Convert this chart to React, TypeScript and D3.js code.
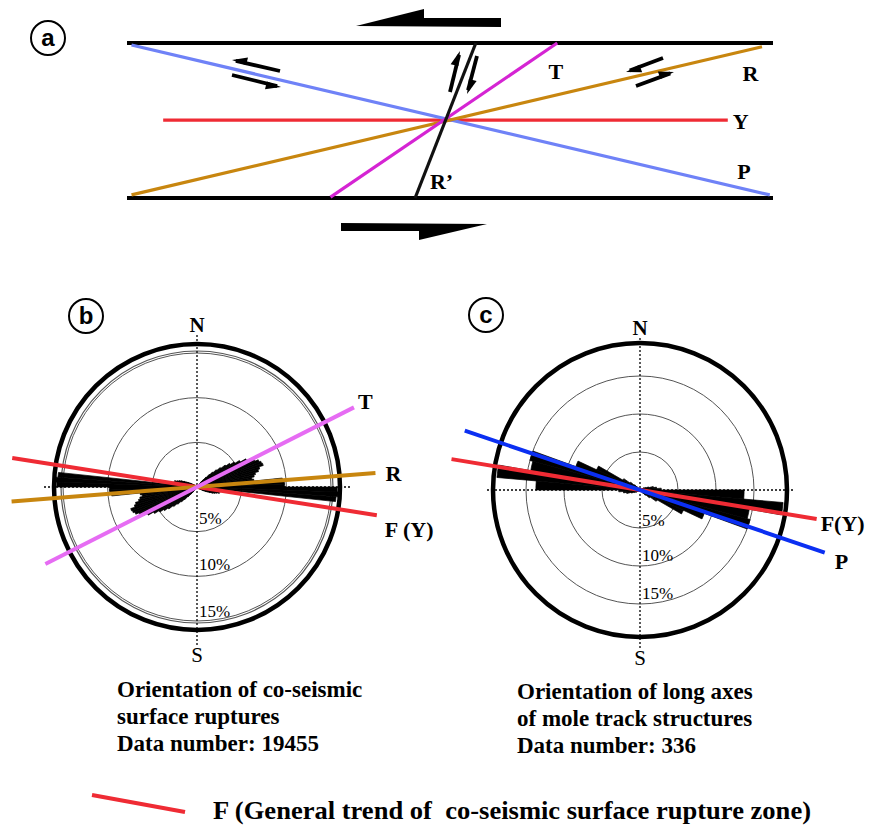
import React from 'react';
import * as d3 from 'd3';

const W = 874, H = 830;
const SERIF = '"Liberation Serif", "Times New Roman", serif';

// ---- panel a : ideal Riedel shear pattern (x: 0..1 along zone, y: 0 top .. 1 bottom)
const traceNames = ['Y', 'P', 'R', 'T', 'R\u2019'];
const traceX1 = [0.056, 0.007, 0.007, 0.315, 0.446];
const traceY1 = [0.497, 0.013, 0.98, 0.994, 1.0];
const traceX2 = [0.93, 0.995, 0.983, 0.666, 0.54];
const traceY2 = [0.497, 0.98, 0.024, 0.0, 0.0];
const traceColors = ['#ef2b34', '#6f82f7', '#c8860f', '#d524d3', '#111'];
const labelX = [0.95, 0.955, 0.965, 0.664, 0.487];
const labelY = [0.555, 0.88, 0.245, 0.235, 0.945];

// ---- panel b : co-seismic surface ruptures, 2 deg bins (axial, mirrored)
const roseBStart = 36;
const roseBWidth = 2;
const roseBPct = [
  0.5, 0.8, 1.1, 1.5, 2.0, 2.4, 2.9, 3.4, 4.0, 4.5, 5.0, 5.6, 6.3, 6.8, 7.1, 7.5,
  7.7, 7.8, 7.3, 7.1, 6.7, 6.5, 6.2, 6.4, 9.6, 9.8, 9.8, 15.7, 15.8, 15.6, 3.6, 3.0,
  2.7, 2.5, 2.6, 2.3, 2.1, 1.9, 1.6, 1.3, 1.1, 0.9, 0.7, 0.5, 0.4,
];
const linesBName = ['F (Y)', 'R', 'T'];
const linesBAz = [98.9, 85.5, 63.1];
const linesBLenFwd = [182, 179, 176];
const linesBLenBack = [187, 186, 170];
const linesBColor = ['#ef2b34', '#c8860f', '#e66cf3'];

// ---- panel c : long axes of mole tracks, 5 deg bins
const roseCStart = 60;
const roseCWidth = 5;
const roseCPct = [0.6, 0.8, 1.2, 1.8, 2.2, 2.8, 13.7, 18.9, 14.6, 15.0, 9.0, 6.3, 2.6, 1.6, 1.0, 0.6];
const linesCName = ['F(Y)', 'P'];
const linesCAz = [99.3, 108.7];
const linesCLenFwd = [179, 195];
const linesCLenBack = [191, 185];
const linesCColor = ['#ef2b34', '#0b2ff2'];

const ringPct = [5, 10, 15];

function Harpoon({ x1, y1, x2, y2, side }: any) {
  const dx = x2 - x1, dy = y2 - y1;
  const L = Math.hypot(dx, dy);
  const ux = dx / L, uy = dy / L;
  const nx = -uy * side, ny = ux * side;
  const bx = x2 - ux * 15, by = y2 - uy * 15;
  const pts = [[x2, y2], [bx + nx * 6, by + ny * 6], [bx - nx * 2, by - ny * 2]];
  return (
    <g>
      <line x1={x1} y1={y1} x2={x2 - ux * 4} y2={y2 - uy * 4} stroke="#000" strokeWidth={3.8} />
      <polygon points={pts.map(p => p.join(',')).join(' ')} fill="#000" />
    </g>
  );
}

function Circled({ x, y, t }: any) {
  return (
    <g>
      <circle cx={x} cy={y} r={17} fill="none" stroke="#000" strokeWidth={2} />
      <text x={x} y={y + 8} textAnchor="middle" fontFamily="Arial, Liberation Sans, sans-serif"
        fontWeight="bold" fontSize={24}>{t}</text>
    </g>
  );
}

function Rose({ cx, cy, r15, outerR, inner, start, width, pct, names, az, fwd, back, colors, labelDy, labelDx, pctY }: any) {
  const r = d3.scaleLinear().domain([0, 15]).range([0, r15]);
  const arc = d3.arc<any>();
  const petals: any[] = [];
  pct.forEach((v: number, i: number) => {
    const a = start + i * width;
    [a, a + 180].forEach(b => {
      petals.push(arc({ innerRadius: 0, outerRadius: r(v), startAngle: b * Math.PI / 180, endAngle: (b + width) * Math.PI / 180 }));
    });
  });
  const dir = (d: number) => [Math.sin(d * Math.PI / 180), -Math.cos(d * Math.PI / 180)];
  return (
    <g transform={`translate(${cx},${cy})`}>
      {ringPct.map(p => (
        <circle key={p} r={r(p)} fill="none" stroke="#555" strokeWidth={1} />
      ))}
      {inner && <circle r={outerR - 7} fill="none" stroke="#555" strokeWidth={1.2} />}
      <circle r={outerR} fill="none" stroke="#000" strokeWidth={4.5} />
      <line x1={0} y1={-152} x2={0} y2={158} stroke="#000" strokeWidth={1.3} strokeDasharray="2,2" />
      <line x1={-153} y1={0} x2={153} y2={0} stroke="#000" strokeWidth={1.3} strokeDasharray="2,2" />
      {petals.map((d, i) => <path key={i} d={d} fill="#000" stroke="#000" strokeWidth={0.7} strokeLinejoin="round" />)}
      {ringPct.map((p, i) => (
        <text key={p} x={2} y={pctY[i]} fontFamily={SERIF} fontSize={17}>{p}%</text>
      ))}
      <text x={0} y={-155} textAnchor="middle" fontFamily={SERIF} fontWeight="bold" fontSize={21}>N</text>
      <text x={0} y={175} textAnchor="middle" fontFamily={SERIF} fontSize={21}>S</text>
      {names.map((n: string, i: number) => {
        const [ux, uy] = dir(az[i]);
        return (
          <g key={n}>
            <line x1={-ux * back[i]} y1={-uy * back[i]} x2={ux * fwd[i]} y2={uy * fwd[i]}
              stroke={colors[i]} strokeWidth={4} />
            <text x={ux * fwd[i] + labelDx[i]} y={uy * fwd[i] + labelDy[i]} fontFamily={SERIF}
              fontWeight="bold" fontSize={22}>{n}</text>
          </g>
        );
      })}
    </g>
  );
}

export default function App() {
  const xA = d3.scaleLinear().domain([0, 1]).range([127, 773]);
  const yA = d3.scaleLinear().domain([0, 1]).range([43, 198]);
  const cap = { fontFamily: SERIF, fontWeight: 'bold', fontSize: 23 } as any;
  return (
    <svg width={W} height={H} style={{ position: 'absolute', left: 0, top: 0, background: '#fff' }}>
      {/* panel a */}
      <Circled x={48} y={38} t="a" />
      <line x1={xA(0)} y1={yA(0)} x2={xA(1)} y2={yA(0)} stroke="#000" strokeWidth={4} />
      <line x1={xA(0)} y1={yA(1)} x2={xA(1)} y2={yA(1)} stroke="#000" strokeWidth={4} />
      <polygon points="356,26 424,9 424,18 501,18 501,27" fill="#000" />
      <polygon points="341,223 487,224 419,240 419,231 341,231" fill="#000" />
      {traceNames.map((n, i) => (
        <line key={n} x1={xA(traceX1[i])} y1={yA(traceY1[i])} x2={xA(traceX2[i])} y2={yA(traceY2[i])}
          stroke={traceColors[i]} strokeWidth={3.2} />
      ))}
      {traceNames.map((n, i) => (
        <text key={n} x={xA(labelX[i])} y={yA(labelY[i])} textAnchor="middle" fontFamily={SERIF}
          fontWeight="bold" fontSize={22}>{n}</text>
      ))}
      <Harpoon x1={280} y1={71} x2={232} y2={60} side={1} />
      <Harpoon x1={232} y1={75} x2={281} y2={87} side={1} />
      <Harpoon x1={663} y1={58} x2={626} y2={72} side={-1} />
      <Harpoon x1={636} y1={86} x2={674} y2={72} side={-1} />
      <Harpoon x1={450} y1={92} x2={460} y2={51} side={-1} />
      <Harpoon x1={477} y1={56} x2={467} y2={94} side={-1} />

      {/* panel b */}
      <Circled x={86} y={316} t="b" />
      <Rose cx={197} cy={487} r15={134} outerR={143} inner start={roseBStart} width={roseBWidth} pct={roseBPct}
        names={linesBName} az={linesBAz} fwd={linesBLenFwd} back={linesBLenBack} colors={linesBColor}
        labelDx={[8, 10, 4]} labelDy={[22, 8, 2]} pctY={[37, 83, 130]} />

      {/* panel c */}
      <Circled x={486} y={315} t="c" />
      <Rose cx={640} cy={490} r15={114} outerR={147} inner={false} start={roseCStart} width={roseCWidth} pct={roseCPct}
        names={linesCName} az={linesCAz} fwd={linesCLenFwd} back={linesCLenBack} colors={linesCColor}
        labelDx={[4, 10]} labelDy={[12, 16]} pctY={[36, 71, 109]} />

      <text {...cap} x={117} y={697}>Orientation of co-seismic</text>
      <text {...cap} x={117} y={724}>surface ruptures</text>
      <text {...cap} x={117} y={751}>Data number: 19455</text>
      <text {...cap} x={517} y={699}>Orientation of long axes</text>
      <text {...cap} x={517} y={726}>of mole track structures</text>
      <text {...cap} x={517} y={753}>Data number: 336</text>

      <line x1={92} y1={795} x2={185} y2={812} stroke="#ef2b34" strokeWidth={4} />
      <text {...cap} fontSize={25} x={213} y={819} textLength={598} lengthAdjust="spacingAndGlyphs"
        xmlSpace="preserve">F (General trend of  co-seismic surface rupture zone)</text>
    </svg>
  );
}
